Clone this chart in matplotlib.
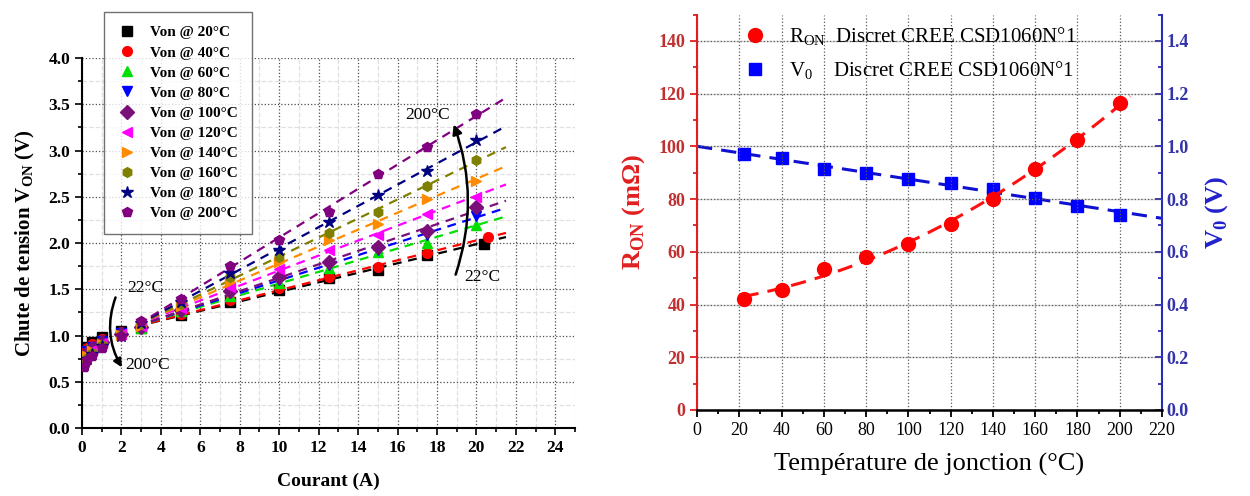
import numpy as np
import matplotlib
matplotlib.use('Agg')
import matplotlib.pyplot as plt
from matplotlib.patches import FancyArrowPatch
from matplotlib.ticker import MultipleLocator

plt.rcParams['font.family'] = ['Liberation Serif', 'DejaVu Serif']
plt.rcParams['mathtext.fontset'] = 'custom'
plt.rcParams['mathtext.rm'] = 'Liberation Serif'

# ---- panneau gauche : Von = f(I) ----
courant = [0.1, 0.25, 0.5, 1, 2, 3, 5, 7.5, 10, 12.5, 15, 17.5, 20]
courant_fin = [20.4, 20.6, 20, 20, 20, 20, 20, 20, 20, 20]
temperatures = [20, 40, 60, 80, 100, 120, 140, 160, 180, 200]
von = [
    [0.84, 0.88, 0.93, 0.98, 1.05, 1.08, 1.22, 1.36, 1.49, 1.62, 1.71, 1.87, 1.99],
    [0.82, 0.86, 0.91, 0.96, 1.04, 1.08, 1.23, 1.38, 1.51, 1.63, 1.74, 1.89, 2.06],
    [0.80, 0.85, 0.89, 0.95, 1.03, 1.08, 1.26, 1.43, 1.57, 1.73, 1.90, 2.00, 2.19],
    [0.78, 0.83, 0.88, 0.94, 1.03, 1.09, 1.27, 1.46, 1.60, 1.76, 1.93, 2.09, 2.29],
    [0.76, 0.81, 0.86, 0.93, 1.02, 1.09, 1.28, 1.48, 1.63, 1.80, 1.96, 2.13, 2.39],
    [0.74, 0.79, 0.84, 0.92, 1.02, 1.10, 1.30, 1.53, 1.72, 1.92, 2.09, 2.31, 2.50],
    [0.72, 0.78, 0.83, 0.91, 1.01, 1.10, 1.32, 1.58, 1.80, 2.03, 2.21, 2.48, 2.67],
    [0.70, 0.76, 0.81, 0.90, 1.01, 1.12, 1.34, 1.63, 1.85, 2.11, 2.34, 2.62, 2.90],
    [0.68, 0.75, 0.80, 0.89, 1.00, 1.14, 1.36, 1.68, 1.92, 2.23, 2.52, 2.78, 3.11],
    [0.66, 0.74, 0.78, 0.87, 1.00, 1.16, 1.40, 1.75, 2.03, 2.34, 2.75, 3.04, 3.39],
]
marqueurs = ['s', 'o', '^', 'v', 'D', '<', '>', 'h', '*', 'p']
couleurs = ['#000000', '#ff0000', '#00e000', '#0000ff', '#7a0f7a',
            '#ff00ff', '#ff8c00', '#808000', '#000080', '#800080']

# ---- panneau droit : Ron et V0 = f(Tj) ----
tj = [22, 40, 60, 80, 100, 120, 140, 160, 180, 200]
ron = [42, 45.5, 53.5, 58, 63, 70.5, 80, 91.5, 102.5, 116.5]
v0 = [0.97, 0.955, 0.915, 0.90, 0.875, 0.86, 0.84, 0.805, 0.775, 0.74]

fig = plt.figure(figsize=(12.5, 4.96), dpi=100)

ax = fig.add_axes([0.0656, 0.137, 0.3944, 0.746])
for k, t in enumerate(temperatures):
    x = np.array(courant[:-1] + [courant_fin[k]])
    y = np.array(von[k])
    ax.plot(x, y, ls='none', marker=marqueurs[k], color=couleurs[k],
            ms=7 if marqueurs[k] != '*' else 9, label='Von @ %d°C' % t, zorder=3)
    sel = x >= 3
    p = np.polyfit(x[sel], y[sel], 1)
    xf = np.linspace(3.5, 21.5, 50)
    ax.plot(xf, np.polyval(p, xf), ls=(0, (4, 3)), lw=1.6, color=couleurs[k], zorder=2)

ax.set_xlim(0, 25)
ax.set_ylim(0, 4.0)
ax.xaxis.set_major_locator(MultipleLocator(2))
ax.xaxis.set_minor_locator(MultipleLocator(1))
ax.yaxis.set_major_locator(MultipleLocator(0.5))
ax.yaxis.set_minor_locator(MultipleLocator(0.25))
ax.grid(which='major', ls=':', color='0.3', lw=0.9)
ax.grid(which='minor', ls='--', color='0.88', lw=0.9)
ax.set_axisbelow(True)
for s in ['top', 'right']:
    ax.spines[s].set_visible(False)
ax.spines['left'].set_linewidth(1.5)
ax.spines['bottom'].set_linewidth(1.5)
ax.tick_params(which='both', direction='out', width=1.2, labelsize=12.5)
ax.tick_params(which='major', length=5)
ax.tick_params(which='minor', length=3)
ax.set_xticks(range(0, 25, 2))
ax.set_xticklabels([str(v) for v in range(0, 25, 2)], fontweight='bold')
ax.set_yticks(np.arange(0, 4.01, 0.5))
ax.set_yticklabels(['%.1f' % v for v in np.arange(0, 4.01, 0.5)], fontweight='bold')
ax.set_xlabel('Courant (A)', fontsize=14, fontweight='bold', labelpad=12)
ax.set_ylabel('Chute de tension V$_\\mathregular{ON}$ (V)', fontsize=15,
              fontweight='bold', labelpad=8)

leg = ax.legend(loc='upper left', bbox_to_anchor=(0.03, 1.145),
                prop={'weight': 'bold', 'size': 11}, frameon=True, fancybox=False,
                edgecolor='0.3', labelspacing=0.42, handletextpad=0.9,
                borderpad=0.9, handlelength=1.2)
leg.get_frame().set_linewidth(1.0)

ax.add_patch(FancyArrowPatch((18.9, 1.63), (18.8, 3.31), connectionstyle='arc3,rad=0.18',
                             arrowstyle='-|>', mutation_scale=14, lw=1.8, color='k', zorder=5))
ax.text(17.5, 3.38, '200°C', ha='center', va='center', fontsize=12.5)
ax.text(20.3, 1.63, '22°C', ha='center', va='center', fontsize=12.5)
ax.add_patch(FancyArrowPatch((1.75, 1.44), (2.1, 0.63), connectionstyle='arc3,rad=0.25',
                             arrowstyle='-|>', mutation_scale=12, lw=1.8, color='k', zorder=5))
ax.text(3.2, 1.51, '22°C', ha='center', va='center', fontsize=12.5)
ax.text(3.3, 0.68, '200°C', ha='center', va='center', fontsize=12.5)

# ---- panneau droit ----
rouge = '#e02020'
bleu = '#2a2ab8'
ax1 = fig.add_axes([0.5576, 0.1734, 0.372, 0.7972])
ax2 = ax1.twinx()
ax1.set_zorder(ax2.get_zorder() + 1)
ax1.patch.set_visible(False)

pr = np.polyfit(tj, ron, 2)
xr = np.linspace(22, 205, 100)
ax1.plot(xr, np.polyval(pr, xr), ls=(0, (5, 3)), lw=2.2, color='#ff1010', zorder=2)
h1, = ax1.plot(tj, ron, 'o', color='#ff0000', ms=10, ls='none', zorder=3)

pv = np.polyfit(tj, v0, 1)
xv = np.linspace(0, 220, 100)
ax2.plot(xv, np.polyval(pv, xv), ls=(0, (5, 3)), lw=2.2, color='#1010d0', zorder=2)
h2, = ax2.plot(tj, v0, 's', color='#0000ff', ms=9, ls='none', zorder=3)

ax1.set_xlim(0, 220)
ax1.set_ylim(0, 150)
ax2.set_ylim(0, 1.5)
ax1.xaxis.set_major_locator(MultipleLocator(20))
ax1.xaxis.set_minor_locator(MultipleLocator(10))
ax1.yaxis.set_minor_locator(MultipleLocator(10))
ax2.yaxis.set_minor_locator(MultipleLocator(0.1))
ax2.set_yticks(np.arange(0, 1.41, 0.2))
ax1.set_yticks(range(0, 141, 20))

ax2.grid(which='major', ls='-', color='0.85', lw=1.0)
ax2.xaxis.grid(True, ls='-', color='0.88', lw=1.0)
ax1.grid(which='major', ls=':', color='0.35', lw=0.9)
ax1.set_axisbelow(True)

ax1.spines['top'].set_visible(False)
ax2.spines['top'].set_visible(False)
ax1.spines['left'].set_color(rouge)
ax1.spines['left'].set_linewidth(1.5)
ax2.spines['left'].set_visible(False)
ax2.spines['right'].set_color(bleu)
ax2.spines['right'].set_linewidth(1.5)
ax1.spines['right'].set_visible(False)
ax1.spines['bottom'].set_linewidth(1.8)
ax2.spines['bottom'].set_visible(False)

ax1.tick_params(axis='x', which='both', direction='out', width=1.3, labelsize=13)
ax1.tick_params(axis='y', which='both', direction='out', width=1.3, labelsize=13,
                colors=rouge, labelcolor='#c03030')
ax2.tick_params(axis='y', which='both', direction='in', width=1.3, labelsize=13,
                colors=bleu, labelcolor='#3333aa')
for a in (ax1, ax2):
    a.tick_params(which='major', length=5)
    a.tick_params(which='minor', length=3)
for lab in ax1.get_yticklabels() + ax2.get_yticklabels():
    lab.set_fontweight('bold')

ax1.set_xlabel('Température de jonction (°C)', fontsize=19, labelpad=10)
ax1.set_ylabel('R$_\\mathregular{ON}$ (mΩ)', fontsize=19, color=rouge,
               fontweight='bold', labelpad=8)
ax2.set_ylabel('V$_\\mathregular{0}$ (V)', fontsize=19, color='#2222cc',
               fontweight='bold', labelpad=10)

ax1.legend([h1, h2], ['R$_\\mathregular{ON}$  Discret CREE CSD1060N°1',
                      'V$_\\mathregular{0}$    Discret CREE CSD1060N°1'],
           loc='upper left', bbox_to_anchor=(0.04, 1.02), frameon=False,
           fontsize=15, handletextpad=0.6, labelspacing=0.55)

fig.savefig('out.png', dpi=100)
